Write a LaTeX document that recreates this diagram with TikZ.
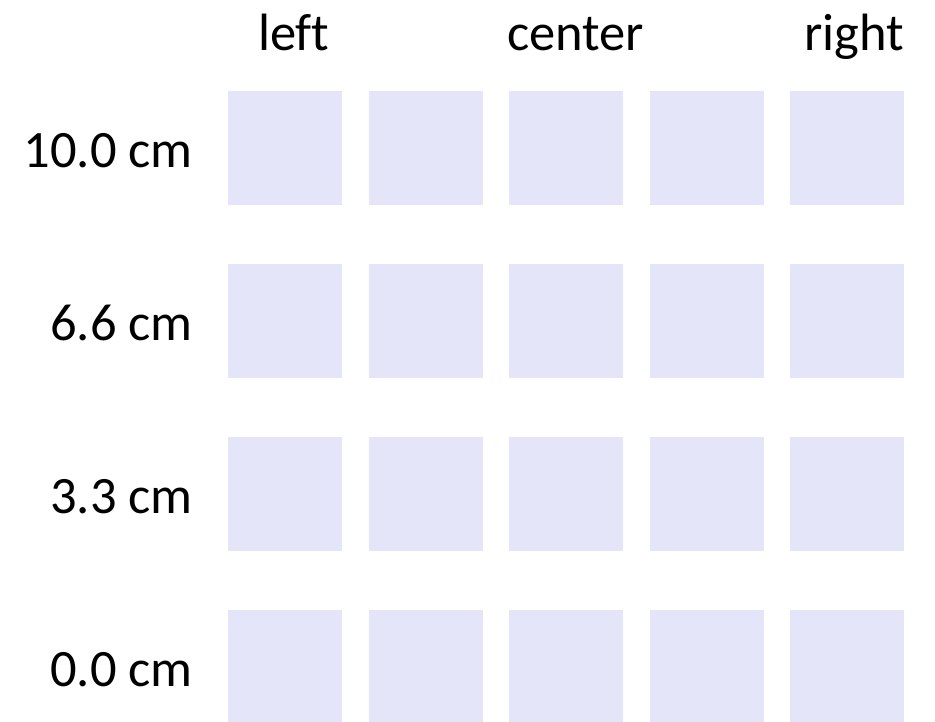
\documentclass[tikz,border=0pt]{standalone}
\usepackage{fontspec}
\setmainfont{Carlito}[Ligatures=NoCommon]
\usepackage{xcolor}
\usepackage{tikz}
\usetikzlibrary{positioning}

\definecolor{cellfill}{RGB}{229,229,249}

\begin{document}
\begin{tikzpicture}[x=1pt, y=-1pt, every node/.style={inner sep=0pt, font=\fontsize{52.5}{60}\selectfont}]
    \useasboundingbox (0,0) rectangle (935,721);

    % Kopfzeile
    \node[anchor=base west] (lleft) at (258,50) {left};
    \node[anchor=base] (lcenter) at (575.5,50) {center};
    \node[anchor=base east] (lright) at (904,50) {right};

    % Zeilen
    \node[anchor=base east] (rowa) at (193,167) {10.0 cm};
    \node[anchor=base east] (rowb) at (193,340) {6.6 cm};
    \node[anchor=base east] (rowc) at (193,513) {3.3 cm};
    \node[anchor=base east] (rowd) at (193,686) {0.0 cm};

    % Felder
    \foreach \r in {0,...,3}
      \foreach \c in {0,...,4}
        \fill[cellfill] (228+140.5*\c,91+173*\r) rectangle +(114,114);
\end{tikzpicture}
\end{document}
